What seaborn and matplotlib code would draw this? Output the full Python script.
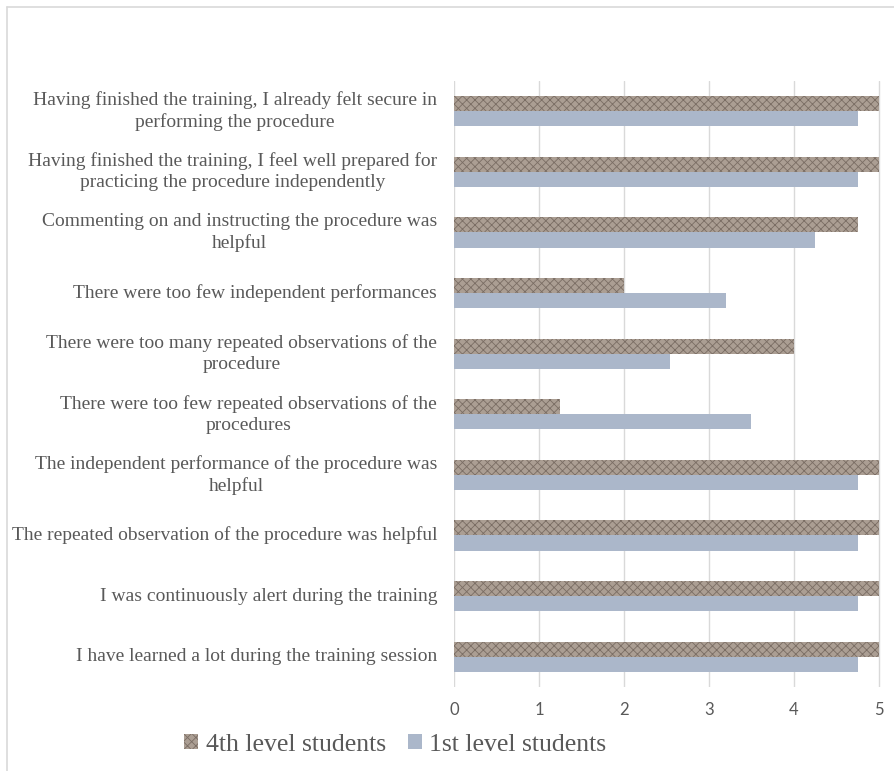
import matplotlib
matplotlib.use("Agg")
import matplotlib.pyplot as plt
import matplotlib.transforms as mtransforms
import seaborn as sns
import pandas as pd
from matplotlib.lines import Line2D
from matplotlib.patches import Patch

categories = [
    "Having finished the training, I already felt secure in\nperforming the procedure",
    "Having finished the training, I feel well prepared for\npracticing the procedure independently",
    "Commenting on and instructing the procedure was\nhelpful",
    "There were too few independent performances",
    "There were too many repeated observations of the\nprocedure",
    "There were too few repeated observations of the\nprocedures",
    "The independent performance of the procedure was\nhelpful",
    "The repeated observation of the procedure was helpful",
    "I was continuously alert during the training",
    "I have learned a lot during the training session",
]
series_names = ["4th level students", "1st level students"]
fourth_level = [5, 5, 4.75, 2, 4, 1.25, 5, 5, 5, 5]
first_level = [4.75, 4.75, 4.25, 3.2, 2.54, 3.5, 4.75, 4.75, 4.75, 4.75]
x_ticks = [0, 1, 2, 3, 4, 5]

df = pd.DataFrame({
    "question": categories * 2,
    "value": fourth_level + first_level,
    "group": [series_names[0]] * len(categories) + [series_names[1]] * len(categories),
})

sns.set_style("white")
plt.rcParams["font.family"] = ["Liberation Serif", "DejaVu Serif"]
plt.rcParams["hatch.linewidth"] = 0.6
plt.rcParams["hatch.color"] = "#7a6d64"

fig = plt.figure(figsize=(8.94, 7.71), dpi=100)
ax = fig.add_axes([0.508, 0.109, 0.477, 0.786])

c4 = "#ab9e93"
c1 = "#abb7ca"
sns.barplot(data=df, y="question", x="value", hue="group", order=categories,
            hue_order=series_names, palette=[c4, c1], orient="h",
            width=0.5, dodge=True, ax=ax, legend=False, saturation=1)

for bar in ax.containers[0]:
    bar.set_hatch("xxxx")
    bar.set_edgecolor("#7a6d64")
    bar.set_linewidth(0)
for bar in ax.containers[1]:
    bar.set_linewidth(0)

ax.set_xlim(0, 5.02)
ax.set_ylim(len(categories) - 0.5, -0.5)
ax.set_xticks(x_ticks)
ax.set_xticklabels([str(t) for t in x_ticks], family="Lato", fontsize=12, color="#595959")
ax.xaxis.grid(True, color="#d9d9d9", linewidth=1)
ax.set_axisbelow(True)
ax.set_xlabel("")
ax.set_ylabel("")
for s in ax.spines.values():
    s.set_visible(False)
ax.tick_params(axis="y", length=0)
ax.tick_params(axis="x", length=0, pad=11)

# category labels: block right-aligned, lines centered within each label
trans = mtransforms.blended_transform_factory(fig.transFigure, ax.transData)
ax.set_yticks(range(len(categories)))
ax.set_yticklabels([])
for i, c in enumerate(categories):
    ax.text(0.489, i, c, transform=trans, ha="right", va="center",
            multialignment="center", fontsize=14, color="#595959", linespacing=1.3)

# figure border (Excel chart outline)
fig.add_artist(Line2D([0.008, 0.008], [0, 0.991], transform=fig.transFigure, color="#d9d9d9", lw=1.2))
fig.add_artist(Line2D([0.008, 1.0], [0.991, 0.991], transform=fig.transFigure, color="#d9d9d9", lw=1.2))

handles = [Patch(facecolor=c4, edgecolor="#7a6d64", hatch="xxxx", linewidth=0),
           Patch(facecolor=c1, linewidth=0)]
fig.legend(handles, series_names, loc="center", bbox_to_anchor=(0.442, 0.034),
           ncol=2, frameon=False, fontsize=18.5, labelcolor="#595959",
           handlelength=0.55, handleheight=0.55, handletextpad=0.3, columnspacing=0.85)

fig.savefig("out.png", dpi=100)
